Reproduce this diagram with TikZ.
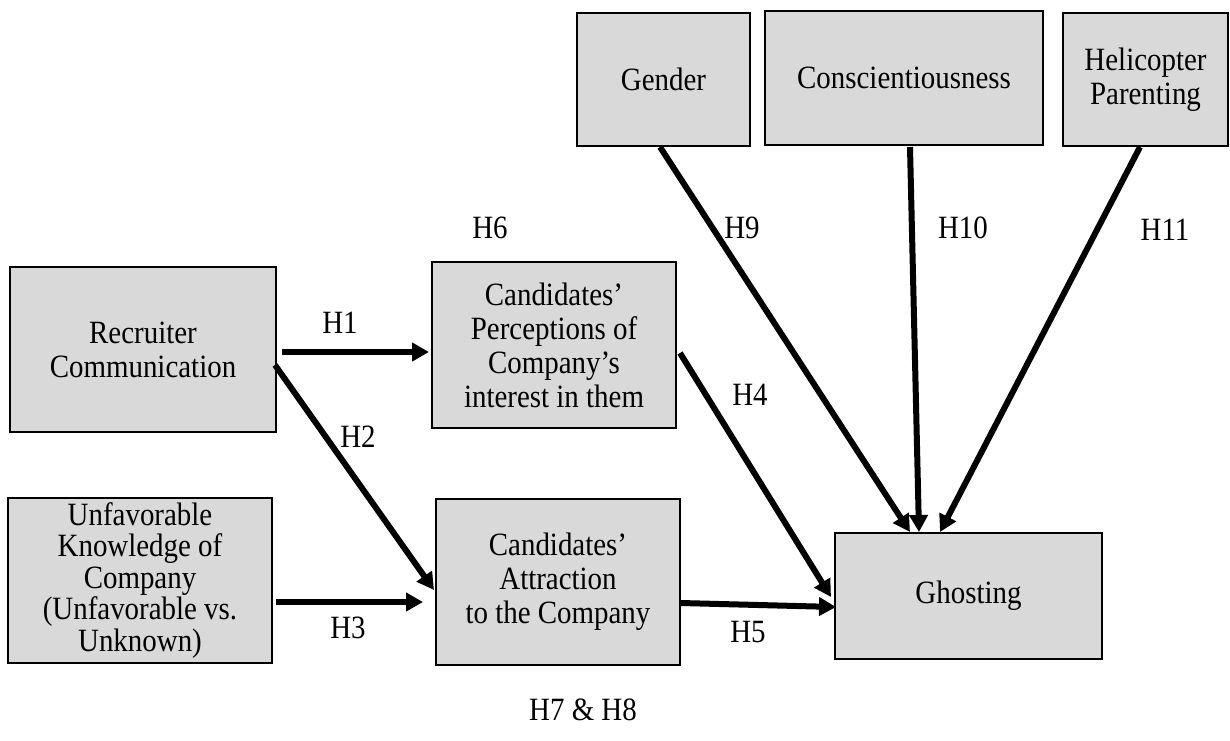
\documentclass[tikz,border=0pt]{standalone}
\usepackage{fontspec}
\setmainfont{Liberation Serif}[FakeStretch=0.89]
\usetikzlibrary{arrows.meta,calc}
\begin{document}
\begin{tikzpicture}[x=1pt,y=-1pt,
  box/.style={draw=black,line width=2pt,fill=boxgray,align=center,inner sep=0pt,
    font=\fontsize{32.5}{34}\selectfont},
  tight/.style={font=\fontsize{32.5}{31.5}\selectfont},
  lab/.style={font=\fontsize{32.5}{34}\selectfont,inner sep=0pt},
  arr/.style={line width=6pt,-{Triangle[length=17pt,width=18pt]}}]
\definecolor{boxgray}{HTML}{D9D9D9}
\useasboundingbox (0,0) rectangle (1230,740);
% boxes
\node[box,minimum width=173pt,minimum height=133pt] (gen) at (663.5,79.5) {Gender};
\node[box,minimum width=278pt,minimum height=134pt] (con) at (904,78) {Conscientiousness};
\node[box,minimum width=165pt,minimum height=133pt] (hel) at (1145.5,79.5) {Helicopter\\Parenting};
\node[box,minimum width=266pt,minimum height=165pt] (rec) at (143,349.5) {Recruiter\\Communication};
\node[box,minimum width=244pt,minimum height=166pt] (candp) at (554,345) {Candidates’\\Perceptions of\\Company’s\\interest in them};
\node[box,tight,minimum width=264pt,minimum height=165pt] (unf) at (140,580.5) {Unfavorable\\Knowledge of\\Company\\(Unfavorable vs.\\Unknown)};
\node[box,minimum width=244pt,minimum height=166pt] (canda) at (558,582) {Candidates’\\Attraction\\to the Company};
\node[box,minimum width=267pt,minimum height=126pt] (gh) at (968.5,596) {Ghosting};
% connectors
\draw[arr] ($(rec.east)+(5,2.5)$) -- ($(candp.west)+(-2,7)$);
\draw[arr] ($(rec.east)+(-2,15.5)$) -- ($(canda.west)+(-1,8)$);
\draw[arr] ($(unf.east)+(3,21.5)$) -- ($(canda.west)+(-12,20)$);
\draw[arr] ($(candp.east)+(3,8)$) -- ($(gh.west)+(-3,1)$);
\draw[arr] ($(canda.east)+(0,21)$) -- ($(gh.west)+(2,11)$);
\draw[arr] ($(gen.south)+(-3.5,0)$) -- ($(gh.north)+(-58.5,0)$);
\draw[arr] ($(con.south)+(6,1)$) -- ($(gh.north)+(-49.5,0)$);
\draw[arr] ($(hel.south)+(-5.5,0)$) -- ($(gh.north)+(-28.5,0)$);
% labels
\node[lab] (l1) at (340,323) {H1};
\node[lab] (l2) at (358,437) {H2};
\node[lab] (l3) at (348,628) {H3};
\node[lab] (l4) at (750,395) {H4};
\node[lab] (l5) at (748,632) {H5};
\node[lab] (l6) at (490,228) {H6};
\node[lab] (l78) at (583,710) {H7 \& H8};
\node[lab] (l9) at (742,228) {H9};
\node[lab] (l10) at (963,228) {H10};
\node[lab] (l11) at (1165,230) {H11};
\end{tikzpicture}
\end{document}
